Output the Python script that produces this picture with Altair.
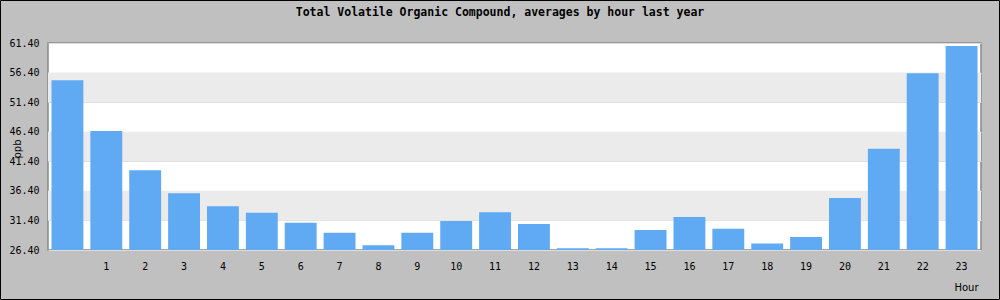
import altair as alt
import pandas as pd

hours = list(range(24))
values = [55.1, 46.5, 39.9, 36.0, 33.8, 32.7, 31.0, 29.3, 27.2, 29.3, 31.3, 32.8,
          30.8, 26.7, 26.7, 29.8, 32.0, 30.0, 27.5, 28.6, 35.2, 43.5, 56.3, 60.9]
y_ticks = [26.4, 31.4, 36.4, 41.4, 46.4, 51.4, 56.4, 61.4]
band_starts = [56.4, 46.4, 36.4]
band_ends = [51.4, 41.4, 31.4]
baseline = 26.4
title_text = "Total Volatile Organic Compound, averages by hour last year"

df = pd.DataFrame({"hour": hours, "value": values})
bands = pd.DataFrame({"a": band_starts, "b": band_ends})

W, H = 933, 207
yscale = alt.Scale(domain=[26.4, 61.4], nice=False, zero=False)
xscale = alt.Scale(paddingInner=0.18, paddingOuter=0.09)

yaxis = alt.Axis(
    title="ppb", values=y_ticks, format=".2f", ticks=False, domain=False,
    grid=True, gridColor="#DDDDDD", gridWidth=1,
    labelFont="DejaVu Sans Mono", labelFontSize=10, labelColor="black",
    labelPadding=9, titleFont="DejaVu Sans", titleFontSize=10,
    titleFontWeight="normal", titleColor="black", titleX=-26, titleY=H / 2 + 2,
)

frame = alt.Chart(pd.DataFrame({"k": [0]})).mark_rect(
    fill="transparent", stroke="black", strokeWidth=1
).encode(
    x=alt.value(-47.5), x2=alt.value(951.5), y=alt.value(-42.5), y2=alt.value(256.5)
)

band_layer = alt.Chart(bands).mark_rect(color="#EBEBEB").encode(
    y=alt.Y("a:Q", scale=yscale, axis=yaxis),
    y2="b:Q",
    x=alt.value(0), x2=alt.value(W),
)

bars = alt.Chart(df).mark_bar(color="#60A9F3").encode(
    x=alt.X("hour:O", scale=xscale, axis=alt.Axis(
        title="Hour", labelAngle=0, ticks=False, domain=False, grid=False,
        labelExpr="datum.value == 0 ? '' : datum.label",
        labelFont="DejaVu Sans Mono", labelFontSize=10, labelColor="black",
        labelPadding=11, titleFont="DejaVu Sans", titleFontSize=10,
        titleFontWeight="normal", titleColor="black", titleAnchor="end",
        titleAlign="right", titleBaseline="middle", titleX=W - 3, titleY=37,
    )),
    y=alt.Y("value:Q", scale=yscale, axis=yaxis),
    y2=alt.datum(baseline),
)

title = alt.Chart(pd.DataFrame({"t": [title_text]})).mark_text(
    font="DejaVu Sans Mono", fontWeight="bold", fontSize=11.5, color="black",
    align="center", baseline="middle"
).encode(text="t:N", x=alt.value(452), y=alt.value(-30))

chart = alt.layer(band_layer, bars, title, frame).properties(
    width=W, height=H,
    autosize=alt.AutoSizeParams(type="none"),
    padding={"left": 48, "top": 43, "right": 19, "bottom": 50},
    background="#C0C0C0",
).configure_view(stroke="#888888", strokeWidth=1.5, fill="white")

chart.save("out.html", embed_options={"renderer": "svg", "actions": False})
